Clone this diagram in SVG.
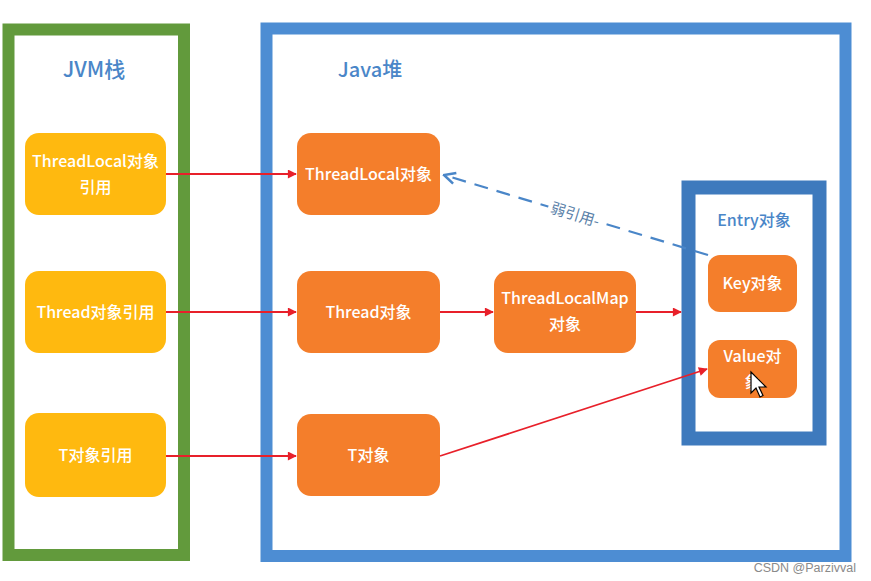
<svg xmlns="http://www.w3.org/2000/svg" width="871" height="581" viewBox="0 0 871 581">
<defs>
<style>
.yb{fill:#FFB90F;}
.ob{fill:#F47E2B;}
.t{font-family:"Noto Sans CJK SC","Noto Sans",sans-serif;font-size:16px;fill:#fff;text-anchor:middle;font-weight:500;}
.title{font-family:"Noto Sans CJK SC","Noto Sans",sans-serif;font-size:20px;fill:#4A86C8;text-anchor:middle;font-weight:500;}
.red{stroke:#E8202A;stroke-width:1.8;fill:none;marker-end:url(#ah);}
</style>
<marker id="ah" viewBox="0 0 10 10" refX="9" refY="5" markerWidth="10" markerHeight="9" markerUnits="userSpaceOnUse" orient="auto">
<path d="M0,0 L10,5 L0,10 z" fill="#E8202A"/>
</marker>
<marker id="bh" viewBox="0 0 10 10" refX="9" refY="5" markerWidth="14" markerHeight="14" markerUnits="userSpaceOnUse" orient="auto">
<path d="M1,1 L9,5 L1,9" fill="none" stroke="#4A86C8" stroke-width="1.8"/>
</marker>
</defs>
<rect width="871" height="581" fill="#fff"/>
<g id="jvm">
<rect x="8.5" y="29.5" width="175.5" height="525.5" fill="none" stroke="#629A3C" stroke-width="12"/>
<text class="title" x="94" y="77" style="font-size:21px">JVM栈</text>
</g>
<g id="java">
<rect x="266.5" y="28.5" width="579" height="527.5" fill="none" stroke="#4D8DD3" stroke-width="12"/>
<text class="title" x="370" y="77">Java堆</text>
</g>
<g id="entry">
<rect x="688.5" y="187.5" width="131" height="251" fill="none" stroke="#3E7ABD" stroke-width="14"/>
<text class="title" x="754" y="226" style="font-size:16px">Entry对象</text>
</g>
<g id="tlref"><rect class="yb" x="25" y="133" width="141" height="82" rx="14"/><text class="t" x="95.5" y="167">ThreadLocal对象</text><text class="t" x="95.5" y="193">引用</text></g>
<g id="thref"><rect class="yb" x="25" y="271" width="141" height="82" rx="14"/><text class="t" x="95.5" y="318">Thread对象引用</text></g>
<g id="tref"><rect class="yb" x="25" y="413" width="141" height="84" rx="14"/><text class="t" x="95.5" y="461">T对象引用</text></g>
<g id="tl"><rect class="ob" x="297" y="133" width="143" height="82" rx="14"/><text class="t" x="368.5" y="180">ThreadLocal对象</text></g>
<g id="th"><rect class="ob" x="297" y="271" width="143" height="82" rx="14"/><text class="t" x="368.5" y="318">Thread对象</text></g>
<g id="t"><rect class="ob" x="297" y="414" width="143" height="82" rx="14"/><text class="t" x="368.5" y="461">T对象</text></g>
<g id="tlm"><rect class="ob" x="494" y="271" width="142" height="82" rx="14"/><text class="t" x="565" y="304">ThreadLocalMap</text><text class="t" x="565" y="330">对象</text></g>
<g id="key"><rect class="ob" x="708" y="255" width="89" height="57" rx="12"/><text class="t" x="752.5" y="289">Key对象</text></g>
<g id="value"><rect class="ob" x="708" y="340" width="89" height="58" rx="12"/><text class="t" x="752.5" y="362">Value对</text><text class="t" x="752.5" y="388">象</text></g>
<g id="connectors">
<line class="red" x1="166" y1="174" x2="296" y2="174"/>
<line class="red" x1="166" y1="312" x2="296" y2="312"/>
<line class="red" x1="166" y1="456" x2="296" y2="456"/>
<line class="red" x1="440" y1="312" x2="493" y2="312"/>
<line class="red" x1="636" y1="312" x2="681" y2="312"/>
<line class="red" x1="440" y1="456" x2="707" y2="369"/>
<line x1="708" y1="255" x2="444" y2="175" stroke="#4A86C8" stroke-width="2.2" stroke-dasharray="14,9" marker-end="url(#bh)"/>
<rect x="547" y="206" width="56" height="18" fill="#fff" transform="rotate(17 575 215)"/>
<text x="575" y="220" transform="rotate(17 575 215)" style="font-family:'Noto Sans CJK SC',sans-serif;font-size:15px;fill:#5A7FA8;text-anchor:middle">弱引用-</text>
</g>
<path d="M751,372 L751,393 L756,388 L760,397 L763,395.5 L759,387 L766,387 Z" fill="#fff" stroke="#000" stroke-width="1.2"/>
<text x="856" y="572" style="font-family:'Liberation Sans',Arial,sans-serif;font-size:12.5px;fill:#8a8a8a;text-anchor:end">CSDN @Parzivval</text>
</svg>
